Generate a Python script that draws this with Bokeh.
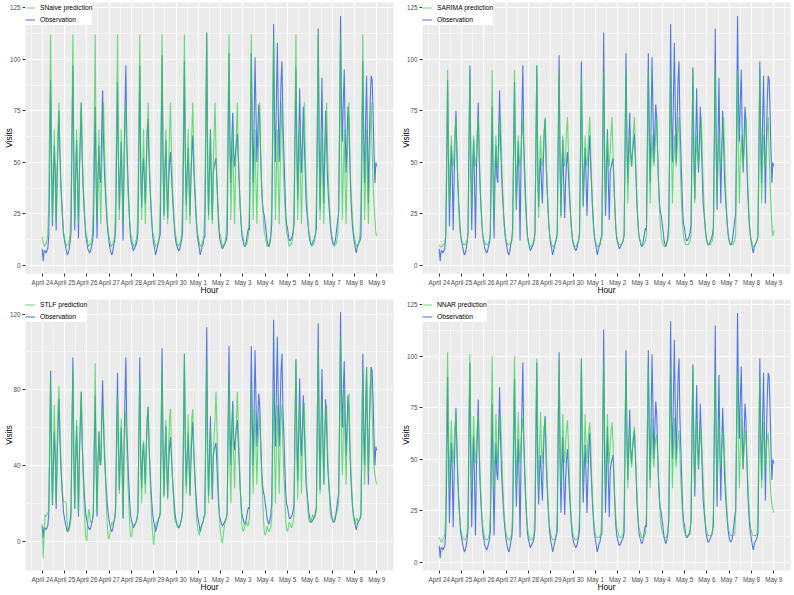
from bokeh.plotting import figure
from bokeh.layouts import gridplot
from bokeh.models import FixedTicker, Range1d, Legend, LegendItem
from bokeh.embed import file_html
from bokeh.resources import INLINE

# ---------------- data (hourly, April 24 00:00 .. May 9 00:00) ----------------
day_labels = ["April 24", "April 25", "April 26", "April 27", "April 28", "April 29",
              "April 30", "May 1", "May 2", "May 3", "May 4", "May 5", "May 6",
              "May 7", "May 8", "May 9"]

obs_days = [
    [8, 2, 7, 7, 6, 7, 8, 14, 45, 90, 50, 19, 40, 58, 45, 17, 42, 60, 75, 55, 40, 30, 22, 15],
    [12, 9, 7, 5, 6, 8, 11, 16, 60, 97, 45, 17, 44, 61, 40, 13, 45, 62, 79, 52, 38, 28, 20, 14],
    [11, 8, 7, 6, 7, 9, 11, 15, 48, 77, 40, 13, 42, 58, 43, 40, 65, 85, 60, 45, 35, 27, 20, 15],
    [11, 8, 6, 5, 7, 10, 12, 18, 55, 89, 50, 27, 45, 60, 40, 12, 50, 75, 97, 60, 45, 32, 22, 14],
    [11, 9, 7, 8, 9, 10, 12, 16, 55, 97, 45, 28, 45, 52, 40, 30, 50, 65, 71, 50, 38, 28, 20, 14],
    [10, 8, 5, 7, 9, 11, 13, 15, 60, 102, 50, 24, 45, 61, 40, 23, 40, 50, 55, 45, 35, 27, 20, 14],
    [11, 9, 8, 7, 8, 10, 12, 16, 55, 99, 50, 29, 45, 57, 42, 24, 42, 55, 63, 48, 38, 28, 20, 14],
    [11, 8, 5, 7, 9, 10, 13, 14, 60, 113, 50, 24, 45, 66, 40, 22, 45, 48, 50, 52, 40, 28, 18, 13],
    [11, 9, 8, 9, 10, 11, 12, 15, 60, 103, 60, 40, 60, 74, 55, 48, 55, 60, 64, 52, 40, 28, 20, 14],
    [12, 10, 9, 10, 13, 16, 18, 17, 60, 103, 65, 40, 70, 101, 75, 50, 65, 78, 72, 55, 40, 30, 26, 24],
    [20, 16, 12, 10, 9, 11, 14, 20, 60, 117, 70, 50, 80, 108, 75, 50, 70, 90, 99, 70, 55, 40, 26, 20],
    [18, 14, 12, 12, 13, 14, 16, 20, 60, 96, 55, 32, 60, 86, 60, 45, 60, 77, 60, 45, 30, 25, 20, 15],
    [12, 10, 10, 11, 12, 13, 15, 18, 60, 115, 60, 27, 60, 91, 55, 30, 55, 75, 60, 42, 33, 26, 20, 15],
    [12, 10, 10, 11, 14, 18, 22, 25, 65, 121, 80, 60, 80, 95, 65, 45, 60, 77, 70, 50, 35, 25, 18, 14],
    [11, 8, 6, 9, 10, 11, 12, 14, 55, 99, 60, 40, 70, 92, 60, 30, 60, 80, 92, 90, 75, 55, 40, 50],
]
obs_end = 48

# seasonal naive: the same 24-hour profile repeated every day
snaive_day = [14, 11, 9, 10, 10, 12, 15, 30, 70, 112, 55, 22, 45, 66, 40, 20, 45, 65, 79, 55, 40, 30, 22, 16]
snaive_end = 14

sarima_days = [
    [10, 9, 9, 9, 10, 10, 11, 14, 55, 95, 55, 30, 50, 63, 52, 48, 55, 65, 71, 55, 40, 28, 19, 14],
    [12, 11, 10, 10, 10, 11, 12, 15, 56, 95, 54, 28, 50, 63, 52, 48, 55, 65, 72, 55, 40, 28, 19, 14],
    [12, 11, 10, 10, 10, 11, 12, 15, 56, 95, 52, 23, 50, 63, 50, 47, 55, 65, 72, 55, 40, 28, 19, 14],
    [12, 11, 10, 10, 10, 11, 12, 15, 56, 95, 55, 28, 50, 63, 52, 48, 55, 64, 72, 55, 40, 28, 19, 14],
    [12, 10, 9, 9, 10, 11, 12, 15, 57, 97, 52, 23, 50, 63, 50, 48, 56, 65, 72, 55, 40, 28, 19, 14],
    [12, 10, 9, 9, 10, 11, 12, 15, 55, 95, 52, 23, 50, 63, 52, 48, 56, 65, 72, 55, 40, 28, 19, 14],
    [12, 10, 9, 9, 10, 11, 12, 15, 55, 93, 55, 28, 50, 63, 52, 48, 55, 65, 72, 55, 40, 28, 19, 14],
    [12, 10, 9, 9, 10, 11, 12, 15, 55, 94, 55, 30, 50, 63, 52, 48, 55, 65, 72, 55, 40, 28, 19, 14],
    [12, 10, 10, 10, 10, 11, 12, 15, 55, 95, 55, 30, 50, 62, 52, 48, 55, 65, 72, 55, 40, 28, 19, 14],
    [12, 10, 10, 10, 10, 11, 12, 15, 55, 95, 55, 30, 50, 63, 52, 48, 55, 65, 72, 55, 40, 28, 19, 14],
    [12, 10, 9, 9, 10, 11, 12, 15, 55, 95, 55, 30, 50, 63, 52, 48, 55, 65, 72, 55, 40, 28, 19, 14],
    [12, 10, 10, 10, 10, 11, 12, 15, 55, 95, 55, 30, 50, 63, 52, 48, 55, 64, 72, 55, 40, 28, 19, 14],
    [12, 10, 10, 10, 10, 11, 12, 15, 55, 96, 55, 30, 50, 63, 52, 48, 55, 65, 72, 55, 40, 28, 19, 14],
    [12, 10, 10, 10, 10, 11, 12, 15, 55, 95, 55, 30, 50, 63, 52, 48, 55, 65, 72, 55, 40, 28, 19, 14],
    [12, 10, 9, 9, 10, 11, 12, 15, 55, 95, 55, 30, 50, 63, 52, 48, 55, 65, 72, 55, 40, 28, 19, 14],
]
sarima_end = 17

stlf_days = [
    [9, -9, 3, 14, 13, 14, 15, 16, 55, 87, 40, 20, 50, 72, 45, 20, 50, 70, 82, 60, 45, 32, 24, 21],
    [21, 21, 20, 6, 5, 6, 8, 12, 60, 91, 45, 17, 45, 64, 40, 15, 50, 65, 79, 55, 35, 20, 8, 2],
    [0, 10, 17, 14, 10, 10, 11, 14, 55, 94, 45, 15, 42, 58, 40, 42, 60, 70, 65, 50, 35, 20, 8, 2],
    [1, 5, 8, 10, 9, 10, 12, 15, 50, 77, 45, 25, 50, 65, 40, 12, 45, 60, 69, 50, 35, 22, 10, 3],
    [2, 6, 9, 8, 9, 10, 12, 15, 55, 86, 40, 20, 45, 53, 40, 25, 50, 65, 71, 50, 35, 22, 10, 3],
    [-2, 5, 8, 10, 10, 12, 12, 14, 60, 93, 45, 23, 45, 64, 40, 22, 50, 65, 70, 50, 35, 25, 15, 10],
    [10, 8, 7, 7, 8, 10, 12, 16, 55, 99, 45, 25, 45, 67, 40, 24, 50, 65, 70, 50, 35, 25, 12, 8],
    [5, 3, 6, 8, 9, 10, 12, 14, 55, 95, 45, 20, 40, 60, 40, 25, 45, 55, 65, 79, 60, 40, 20, 10],
    [4, 0, -1, 4, 8, 10, 12, 14, 55, 87, 40, 20, 50, 70, 45, 28, 50, 65, 79, 60, 45, 30, 18, 8],
    [5, 6, 8, 10, 10, 8, 9, 12, 50, 81, 45, 25, 50, 70, 50, 30, 50, 60, 68, 50, 35, 25, 12, 5],
    [3, 5, 8, 6, 5, 6, 8, 12, 50, 78, 45, 20, 50, 72, 50, 25, 50, 65, 72, 50, 35, 25, 12, 6],
    [5, 8, 10, 9, 7, 8, 10, 14, 60, 96, 45, 22, 50, 73, 50, 25, 50, 65, 73, 50, 35, 25, 15, 11],
    [10, 10, 12, 14, 12, 12, 14, 16, 65, 102, 50, 25, 55, 75, 50, 30, 55, 68, 72, 50, 35, 25, 15, 12],
    [12, 10, 11, 13, 14, 15, 17, 20, 65, 108, 55, 35, 55, 79, 50, 30, 55, 68, 78, 55, 40, 28, 18, 12],
    [10, 9, 12, 12, 10, 11, 12, 14, 55, 90, 50, 30, 55, 92, 55, 35, 60, 80, 92, 70, 50, 40, 35, 32],
]
stlf_end = 30

nnar_days = [
    [12, 11, 10, 10, 11, 12, 14, 22, 70, 102, 60, 36, 55, 69, 55, 48, 58, 66, 72, 58, 42, 30, 22, 17],
    [14, 12, 11, 11, 11, 12, 14, 24, 72, 101, 60, 36, 55, 71, 55, 48, 58, 66, 72, 58, 42, 30, 22, 17],
    [14, 12, 11, 11, 11, 12, 14, 24, 70, 100, 60, 36, 55, 72, 55, 48, 58, 66, 71, 58, 42, 30, 22, 17],
    [14, 12, 11, 11, 11, 12, 14, 24, 70, 100, 60, 36, 55, 73, 55, 48, 58, 65, 70, 58, 42, 30, 22, 17],
    [14, 12, 11, 11, 11, 12, 14, 24, 70, 99, 60, 36, 55, 73, 55, 48, 58, 65, 70, 58, 42, 30, 22, 17],
    [14, 12, 11, 11, 11, 12, 14, 24, 70, 98, 60, 36, 55, 72, 55, 48, 58, 65, 69, 58, 42, 30, 22, 17],
    [14, 12, 11, 11, 11, 12, 14, 24, 70, 98, 60, 36, 55, 72, 55, 48, 58, 64, 68, 58, 42, 30, 22, 17],
    [14, 12, 12, 12, 12, 13, 14, 24, 68, 97, 60, 36, 55, 72, 55, 48, 58, 64, 68, 58, 42, 30, 22, 17],
    [15, 13, 12, 12, 12, 13, 14, 24, 68, 96, 58, 36, 52, 66, 52, 46, 56, 62, 66, 55, 42, 30, 22, 17],
    [15, 13, 12, 12, 12, 13, 14, 24, 68, 95, 58, 36, 55, 70, 52, 46, 55, 60, 62, 52, 40, 30, 22, 17],
    [15, 13, 12, 12, 12, 13, 14, 24, 68, 95, 58, 36, 55, 70, 52, 46, 55, 60, 64, 52, 40, 30, 22, 17],
    [15, 13, 13, 13, 13, 13, 14, 24, 68, 95, 58, 36, 55, 70, 52, 46, 55, 60, 65, 52, 40, 30, 22, 17],
    [15, 13, 13, 13, 13, 13, 14, 24, 66, 92, 58, 36, 55, 70, 52, 46, 55, 60, 64, 52, 40, 30, 22, 17],
    [15, 13, 13, 13, 13, 13, 14, 24, 66, 92, 58, 36, 55, 70, 52, 46, 55, 60, 64, 52, 40, 30, 22, 17],
    [15, 13, 13, 13, 13, 13, 14, 24, 65, 90, 56, 36, 53, 68, 52, 46, 55, 60, 63, 52, 40, 32, 28, 26],
]
nnar_end = 24


def flatten(days, end):
    out = []
    for d in days:
        out.extend(d)
    out.append(end)
    return out


obs = flatten(obs_days, obs_end)
snaive = flatten([snaive_day] * len(obs_days), snaive_end)
sarima = flatten(sarima_days, sarima_end)
stlf = flatten(stlf_days, stlf_end)
nnar = flatten(nnar_days, nnar_end)
hours = list(range(len(obs)))

# ---------------- styling ----------------
GREEN = "#2FD24A"
BLUE = "#3E6DE4"
FONT = "Liberation Sans"
day_ticks = [24 * i for i in range(len(day_labels))]
minor_x = [24 * i - 12 for i in range(len(day_labels) + 1)]


def panel(pred, name, yr, yticks, yminor):
    p = figure(width=397, height=297, output_backend="svg", toolbar_location=None,
               x_range=Range1d(-18, 378), y_range=Range1d(*yr),
               min_border_top=2, min_border_right=4, min_border_left=0, min_border_bottom=0)
    p.background_fill_color = "#EBEBEB"
    p.border_fill_color = "white"
    p.outline_line_color = None

    b = p.line(hours, obs, line_color=BLUE, line_width=1.1, line_alpha=0.9)
    g = p.line(hours, pred, line_color=GREEN, line_width=1.1, line_alpha=0.7)

    xt = FixedTicker(ticks=day_ticks, minor_ticks=minor_x)
    yt = FixedTicker(ticks=yticks, minor_ticks=yminor)
    p.xaxis.ticker = xt
    p.yaxis.ticker = yt
    p.xgrid.ticker = xt
    p.ygrid.ticker = yt
    p.xaxis.major_label_overrides = {t: l for t, l in zip(day_ticks, day_labels)}

    for gr in (p.xgrid, p.ygrid):
        gr.grid_line_color = "white"
        gr.grid_line_width = 1.1
        gr.minor_grid_line_color = "white"
        gr.minor_grid_line_width = 0.5

    for ax in (p.xaxis, p.yaxis):
        ax.axis_line_color = None
        ax.major_tick_line_color = "#333333"
        ax.major_tick_in = 0
        ax.major_tick_out = 3
        ax.minor_tick_line_color = None
        ax.major_label_text_font = FONT
        ax.major_label_text_font_size = "6.3px"
        ax.major_label_text_color = "#4D4D4D"
        ax.major_label_text_line_height = 1.0
        ax.axis_label_text_font = FONT
        ax.axis_label_text_font_size = "8.3px"
        ax.axis_label_text_font_style = "normal"
        ax.axis_label_text_color = "black"
        ax.axis_label_text_line_height = 1.0
    p.xaxis.major_label_standoff = 1
    p.yaxis.major_label_standoff = 1
    p.xaxis.axis_label_standoff = -4
    p.yaxis.axis_label_standoff = -7
    p.xaxis.axis_label = "Hour"
    p.yaxis.axis_label = "Visits"

    leg = Legend(items=[LegendItem(label=name, renderers=[g]),
                        LegendItem(label="Observation", renderers=[b])],
                 location="top_left", margin=0, padding=2, spacing=1,
                 glyph_width=10, glyph_height=11, label_height=11,
                 label_standoff=5, label_text_font=FONT,
                 label_text_font_size="6.7px", label_text_color="black",
                 border_line_color=None, background_fill_color="white",
                 background_fill_alpha=1.0)
    p.add_layout(leg)
    return p


t25 = [0, 25, 50, 75, 100, 125]
m25 = [12.5, 37.5, 62.5, 87.5, 112.5]
p1 = panel(snaive, "SNaive prediction", (-4, 127.6), t25, m25)
p2 = panel(sarima, "SARIMA prediction", (-4, 127.6), t25, m25)
p3 = panel(stlf, "STLF prediction", (-15.5, 127.7), [0, 40, 80, 120], [20, 60, 100])
p4 = panel(nnar, "NNAR prediction", (-4, 127.6), t25, m25)

grid = gridplot([[p1, p2], [p3, p4]], toolbar_location=None)

open("out.html", "w").write(file_html(grid, INLINE))
